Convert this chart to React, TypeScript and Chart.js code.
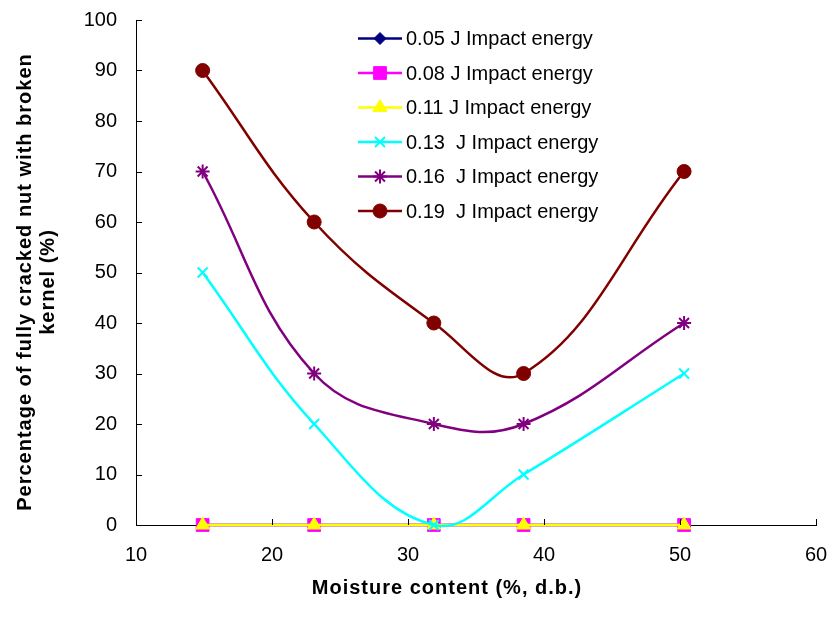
import React, { useEffect, useRef } from "react";
import { Chart, registerables } from "chart.js";
import { drawPoint } from "chart.js/helpers";

Chart.register(...registerables);

const moisture = [14.9, 23.1, 31.9, 38.5, 50.3];
const seriesNames = [
  "0.05 J Impact energy",
  "0.08 J Impact energy",
  "0.11 J Impact energy",
  "0.13  J Impact energy",
  "0.16  J Impact energy",
  "0.19  J Impact energy",
];
const e005 = [0, 0, 0, 0, 0];
const e008 = [0, 0, 0, 0, 0];
const e011 = [0, 0, 0, 0, 0];
const e013 = [50, 20, 0, 10, 30];
const e016 = [70, 30, 20, 20, 40];
const e019 = [90, 60, 40, 30, 70];
const xTicks = [10, 20, 30, 40, 50, 60];
const yTicks = [0, 10, 20, 30, 40, 50, 60, 70, 80, 90, 100];
const xTitle = "Moisture content (%, d.b.)";
const yTitle = ["Percentage of fully cracked nut with broken", "kernel (%)"];

const FONT = "'Liberation Sans', Arial, sans-serif";

const styles = [
  { color: "#000080", pointStyle: "rectRot", radius: 6, bw: 1 },
  { color: "#FF00FF", pointStyle: "rect", radius: 9, bw: 1 },
  { color: "#FFFF00", pointStyle: "triangle", radius: 8, bw: 1 },
  { color: "#00FFFF", pointStyle: "crossRot", radius: 7, bw: 2 },
  { color: "#800080", pointStyle: "star", radius: 7, bw: 2 },
  { color: "#800000", pointStyle: "circle", radius: 7, bw: 1 },
];

const allSeries = [e005, e008, e011, e013, e016, e019];

const inwardTicks = {
  id: "inwardTicks",
  afterDatasetsDraw(chart: any) {
    const ctx = chart.ctx;
    const xs = chart.scales.x;
    const ys = chart.scales.y;
    const area = chart.chartArea;
    ctx.save();
    ctx.strokeStyle = "#000";
    ctx.lineWidth = 1;
    ctx.beginPath();
    xTicks.forEach((v) => {
      if (v === xTicks[0]) return;
      const px = Math.round(xs.getPixelForValue(v)) + 0.5;
      ctx.moveTo(px, area.bottom);
      ctx.lineTo(px, area.bottom - 6);
    });
    yTicks.forEach((v) => {
      if (v === yTicks[0]) return;
      const py = Math.round(ys.getPixelForValue(v)) + 0.5;
      ctx.moveTo(area.left, py);
      ctx.lineTo(area.left + 6, py);
    });
    ctx.stroke();
    ctx.restore();
  },
};

const axisTitles = {
  id: "axisTitles",
  afterDraw(chart: any) {
    const ctx = chart.ctx;
    ctx.save();
    ctx.fillStyle = "#000";
    ctx.font = `bold 20px ${FONT}`;
    (ctx as any).letterSpacing = "1px";
    ctx.textAlign = "center";
    ctx.textBaseline = "middle";
    ctx.fillText(xTitle, 447, 588);
    ctx.translate(25, 282);
    ctx.rotate(-Math.PI / 2);
    ctx.fillText(yTitle[0], 0, 0);
    ctx.fillText(yTitle[1], 0, 23);
    ctx.restore();
  },
};

const customLegend = {
  id: "customLegend",
  afterDraw(chart: any) {
    const ctx = chart.ctx;
    ctx.save();
    const x0 = 358;
    const x1 = 402;
    const tx = 406;
    const y0 = 38.5;
    const step = 34.5;
    seriesNames.forEach((name, i) => {
      const s = styles[i];
      const y = y0 + i * step;
      ctx.strokeStyle = s.color;
      ctx.lineWidth = 2.5;
      ctx.beginPath();
      ctx.moveTo(x0, y);
      ctx.lineTo(x1, y);
      ctx.stroke();
      ctx.fillStyle = s.color;
      ctx.strokeStyle = s.color;
      ctx.lineWidth = s.bw;
      drawPoint(ctx, { pointStyle: s.pointStyle, radius: s.radius, rotation: 0, borderWidth: s.bw }, (x0 + x1) / 2, y);
      ctx.fillStyle = "#000";
      ctx.font = `20px ${FONT}`;
      ctx.textBaseline = "middle";
      ctx.textAlign = "left";
      ctx.fillText(name, tx, y + 1);
    });
    ctx.restore();
  },
};

export default function App() {
  const ref = useRef<HTMLCanvasElement | null>(null);
  useEffect(() => {
    if (!ref.current) return;
    const datasets = allSeries.map((vals, i) => ({
      label: seriesNames[i],
      data: moisture.map((m, j) => ({ x: m, y: vals[j] })),
      borderColor: styles[i].color,
      backgroundColor: styles[i].color,
      pointBackgroundColor: styles[i].color,
      pointBorderColor: styles[i].color,
      pointStyle: styles[i].pointStyle,
      pointRadius: styles[i].radius,
      pointHoverRadius: styles[i].radius,
      pointBorderWidth: styles[i].bw,
      borderWidth: 2.5,
      tension: 0.4,
      capBezierPoints: false,
      clip: false,
      order: allSeries.length - i,
      showLine: true,
      fill: false,
    }));
    const zeroPad = (scale: any) => {
      scale.paddingTop = 0;
      scale.paddingBottom = 0;
      scale.paddingLeft = 0;
      scale.paddingRight = 0;
    };
    const chart = new Chart(ref.current, {
      type: "scatter",
      data: { datasets },
      plugins: [inwardTicks, axisTitles, customLegend],
      options: {
        animation: false,
        responsive: false,
        maintainAspectRatio: false,
        layout: { padding: { left: 0, top: 20, right: 15, bottom: 0 } },
        plugins: { legend: { display: false }, tooltip: { enabled: false } },
        scales: {
          x: {
            type: "linear",
            min: 10,
            max: 60,
            afterBuildTicks: (scale: any) => {
              scale.ticks = xTicks.map((v) => ({ value: v }));
            },
            afterFit: (scale: any) => {
              scale.height = 92;
              zeroPad(scale);
            },
            grid: { display: false, drawTicks: false },
            border: { display: true, color: "#000", width: 1 },
            ticks: { color: "#000", font: { family: FONT, size: 20 }, padding: 18, maxRotation: 0 },
            title: { display: false },
          },
          y: {
            type: "linear",
            min: 0,
            max: 100,
            afterBuildTicks: (scale: any) => {
              scale.ticks = yTicks.map((v) => ({ value: v }));
            },
            afterFit: (scale: any) => {
              scale.width = 136;
              zeroPad(scale);
            },
            grid: { display: false, drawTicks: false },
            border: { display: true, color: "#000", width: 1 },
            ticks: { color: "#000", font: { family: FONT, size: 20 }, padding: 19 },
            title: { display: false },
          },
        },
      },
    } as any);
    return () => chart.destroy();
  }, []);
  return (
    <div style={{ position: "fixed", left: 0, top: 0, width: 831, height: 617, background: "#fff" }}>
      <canvas ref={ref} width={831} height={617} style={{ width: 831, height: 617 }} />
    </div>
  );
}
